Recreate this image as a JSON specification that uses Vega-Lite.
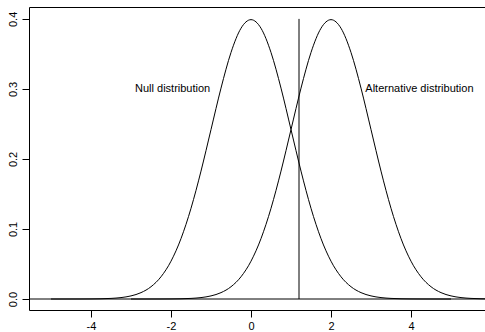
{
  "$schema": "https://vega.github.io/schema/vega-lite/v6.json",
  "width": 456,
  "height": 303,
  "autosize": {"type": "none"},
  "padding": {"left": 29, "top": 7, "right": 0, "bottom": 22},
  "background": "white",
  "config": {
    "view": {"stroke": "black", "strokeWidth": 1},
    "font": "Liberation Sans",
    "axis": {"grid": false, "domain": false, "tickColor": "black", "tickSize": 7, "labelColor": "black", "labelFontSize": 11, "labelFont": "Liberation Sans", "title": null}
  },
  "datasets": {
    "curves": [
      {"x": -5, "density": 0.0000015, "dist": "null"},
      {"x": -4.75, "density": 0.000005, "dist": "null"},
      {"x": -4.5, "density": 0.000016, "dist": "null"},
      {"x": -4.25, "density": 0.0000477, "dist": "null"},
      {"x": -4, "density": 0.000134, "dist": "null"},
      {"x": -3.75, "density": 0.000353, "dist": "null"},
      {"x": -3.5, "density": 0.000873, "dist": "null"},
      {"x": -3.25, "density": 0.002029, "dist": "null"},
      {"x": -3, "density": 0.004432, "dist": "null"},
      {"x": -2.75, "density": 0.009094, "dist": "null"},
      {"x": -2.5, "density": 0.017528, "dist": "null"},
      {"x": -2.25, "density": 0.03174, "dist": "null"},
      {"x": -2, "density": 0.053991, "dist": "null"},
      {"x": -1.75, "density": 0.086277, "dist": "null"},
      {"x": -1.5, "density": 0.129518, "dist": "null"},
      {"x": -1.25, "density": 0.182649, "dist": "null"},
      {"x": -1, "density": 0.241971, "dist": "null"},
      {"x": -0.75, "density": 0.301137, "dist": "null"},
      {"x": -0.5, "density": 0.352065, "dist": "null"},
      {"x": -0.25, "density": 0.386668, "dist": "null"},
      {"x": 0, "density": 0.398942, "dist": "null"},
      {"x": 0.25, "density": 0.386668, "dist": "null"},
      {"x": 0.5, "density": 0.352065, "dist": "null"},
      {"x": 0.75, "density": 0.301137, "dist": "null"},
      {"x": 1, "density": 0.241971, "dist": "null"},
      {"x": 1.25, "density": 0.182649, "dist": "null"},
      {"x": 1.5, "density": 0.129518, "dist": "null"},
      {"x": 1.75, "density": 0.086277, "dist": "null"},
      {"x": 2, "density": 0.053991, "dist": "null"},
      {"x": 2.25, "density": 0.03174, "dist": "null"},
      {"x": 2.5, "density": 0.017528, "dist": "null"},
      {"x": 2.75, "density": 0.009094, "dist": "null"},
      {"x": 3, "density": 0.004432, "dist": "null"},
      {"x": 3.25, "density": 0.002029, "dist": "null"},
      {"x": 3.5, "density": 0.000873, "dist": "null"},
      {"x": 3.75, "density": 0.000353, "dist": "null"},
      {"x": 4, "density": 0.000134, "dist": "null"},
      {"x": 4.25, "density": 0.0000477, "dist": "null"},
      {"x": 4.5, "density": 0.000016, "dist": "null"},
      {"x": 4.75, "density": 0.000005, "dist": "null"},
      {"x": 5, "density": 0.0000015, "dist": "null"},
      {"x": -3, "density": 0.0000015, "dist": "alt"},
      {"x": -2.75, "density": 0.000005, "dist": "alt"},
      {"x": -2.5, "density": 0.000016, "dist": "alt"},
      {"x": -2.25, "density": 0.0000477, "dist": "alt"},
      {"x": -2, "density": 0.000134, "dist": "alt"},
      {"x": -1.75, "density": 0.000353, "dist": "alt"},
      {"x": -1.5, "density": 0.000873, "dist": "alt"},
      {"x": -1.25, "density": 0.002029, "dist": "alt"},
      {"x": -1, "density": 0.004432, "dist": "alt"},
      {"x": -0.75, "density": 0.009094, "dist": "alt"},
      {"x": -0.5, "density": 0.017528, "dist": "alt"},
      {"x": -0.25, "density": 0.03174, "dist": "alt"},
      {"x": 0, "density": 0.053991, "dist": "alt"},
      {"x": 0.25, "density": 0.086277, "dist": "alt"},
      {"x": 0.5, "density": 0.129518, "dist": "alt"},
      {"x": 0.75, "density": 0.182649, "dist": "alt"},
      {"x": 1, "density": 0.241971, "dist": "alt"},
      {"x": 1.25, "density": 0.301137, "dist": "alt"},
      {"x": 1.5, "density": 0.352065, "dist": "alt"},
      {"x": 1.75, "density": 0.386668, "dist": "alt"},
      {"x": 2, "density": 0.398942, "dist": "alt"},
      {"x": 2.25, "density": 0.386668, "dist": "alt"},
      {"x": 2.5, "density": 0.352065, "dist": "alt"},
      {"x": 2.75, "density": 0.301137, "dist": "alt"},
      {"x": 3, "density": 0.241971, "dist": "alt"},
      {"x": 3.25, "density": 0.182649, "dist": "alt"},
      {"x": 3.5, "density": 0.129518, "dist": "alt"},
      {"x": 3.75, "density": 0.086277, "dist": "alt"},
      {"x": 4, "density": 0.053991, "dist": "alt"},
      {"x": 4.25, "density": 0.03174, "dist": "alt"},
      {"x": 4.5, "density": 0.017528, "dist": "alt"},
      {"x": 4.75, "density": 0.009094, "dist": "alt"},
      {"x": 5, "density": 0.004432, "dist": "alt"},
      {"x": 5.25, "density": 0.002029, "dist": "alt"},
      {"x": 5.5, "density": 0.000873, "dist": "alt"},
      {"x": 5.75, "density": 0.000353, "dist": "alt"},
      {"x": 6, "density": 0.000134, "dist": "alt"}
    ],
    "labels": [
      {"x": -1.96, "y": 0.3, "label": "Null distribution"},
      {"x": 4.21, "y": 0.3, "label": "Alternative distribution"}
    ],
    "hline": [{"y": 0}],
    "vline": [{"x": 1.2, "y": 0, "y2": 0.4}]
  },
  "layer": [
    {
      "data": {"name": "curves"},
      "mark": {"type": "line", "color": "black", "strokeWidth": 1, "interpolate": "monotone", "clip": true},
      "encoding": {
        "x": {"field": "x", "type": "quantitative", "scale": {"domain": [-5.55, 5.85], "nice": false, "zero": false},
              "axis": {"values": [-4, -2, 0, 2, 4], "labelExpr": "toString(datum.value)", "labelPadding": 3, "labelFlush": false}},
        "y": {"field": "density", "type": "quantitative", "scale": {"domain": [-0.0157, 0.417], "nice": false, "zero": false},
              "axis": {"values": [0, 0.1, 0.2, 0.3, 0.4], "format": ".1f", "labelAngle": -90, "labelAlign": "center", "labelBaseline": "bottom", "labelPadding": 4, "labelFlush": false}},
        "detail": {"field": "dist"}
      }
    },
    {
      "data": {"name": "hline"},
      "mark": {"type": "rule", "color": "black", "strokeWidth": 1},
      "encoding": {"y": {"field": "y", "type": "quantitative"}}
    },
    {
      "data": {"name": "vline"},
      "mark": {"type": "rule", "color": "black", "strokeWidth": 1},
      "encoding": {
        "x": {"field": "x", "type": "quantitative"},
        "y": {"field": "y", "type": "quantitative"},
        "y2": {"field": "y2"}
      }
    },
    {
      "data": {"name": "labels"},
      "mark": {"type": "text", "font": "Liberation Sans", "fontSize": 11, "color": "black", "align": "center", "baseline": "middle"},
      "encoding": {
        "x": {"field": "x", "type": "quantitative"},
        "y": {"field": "y", "type": "quantitative"},
        "text": {"field": "label"}
      }
    }
  ]
}
